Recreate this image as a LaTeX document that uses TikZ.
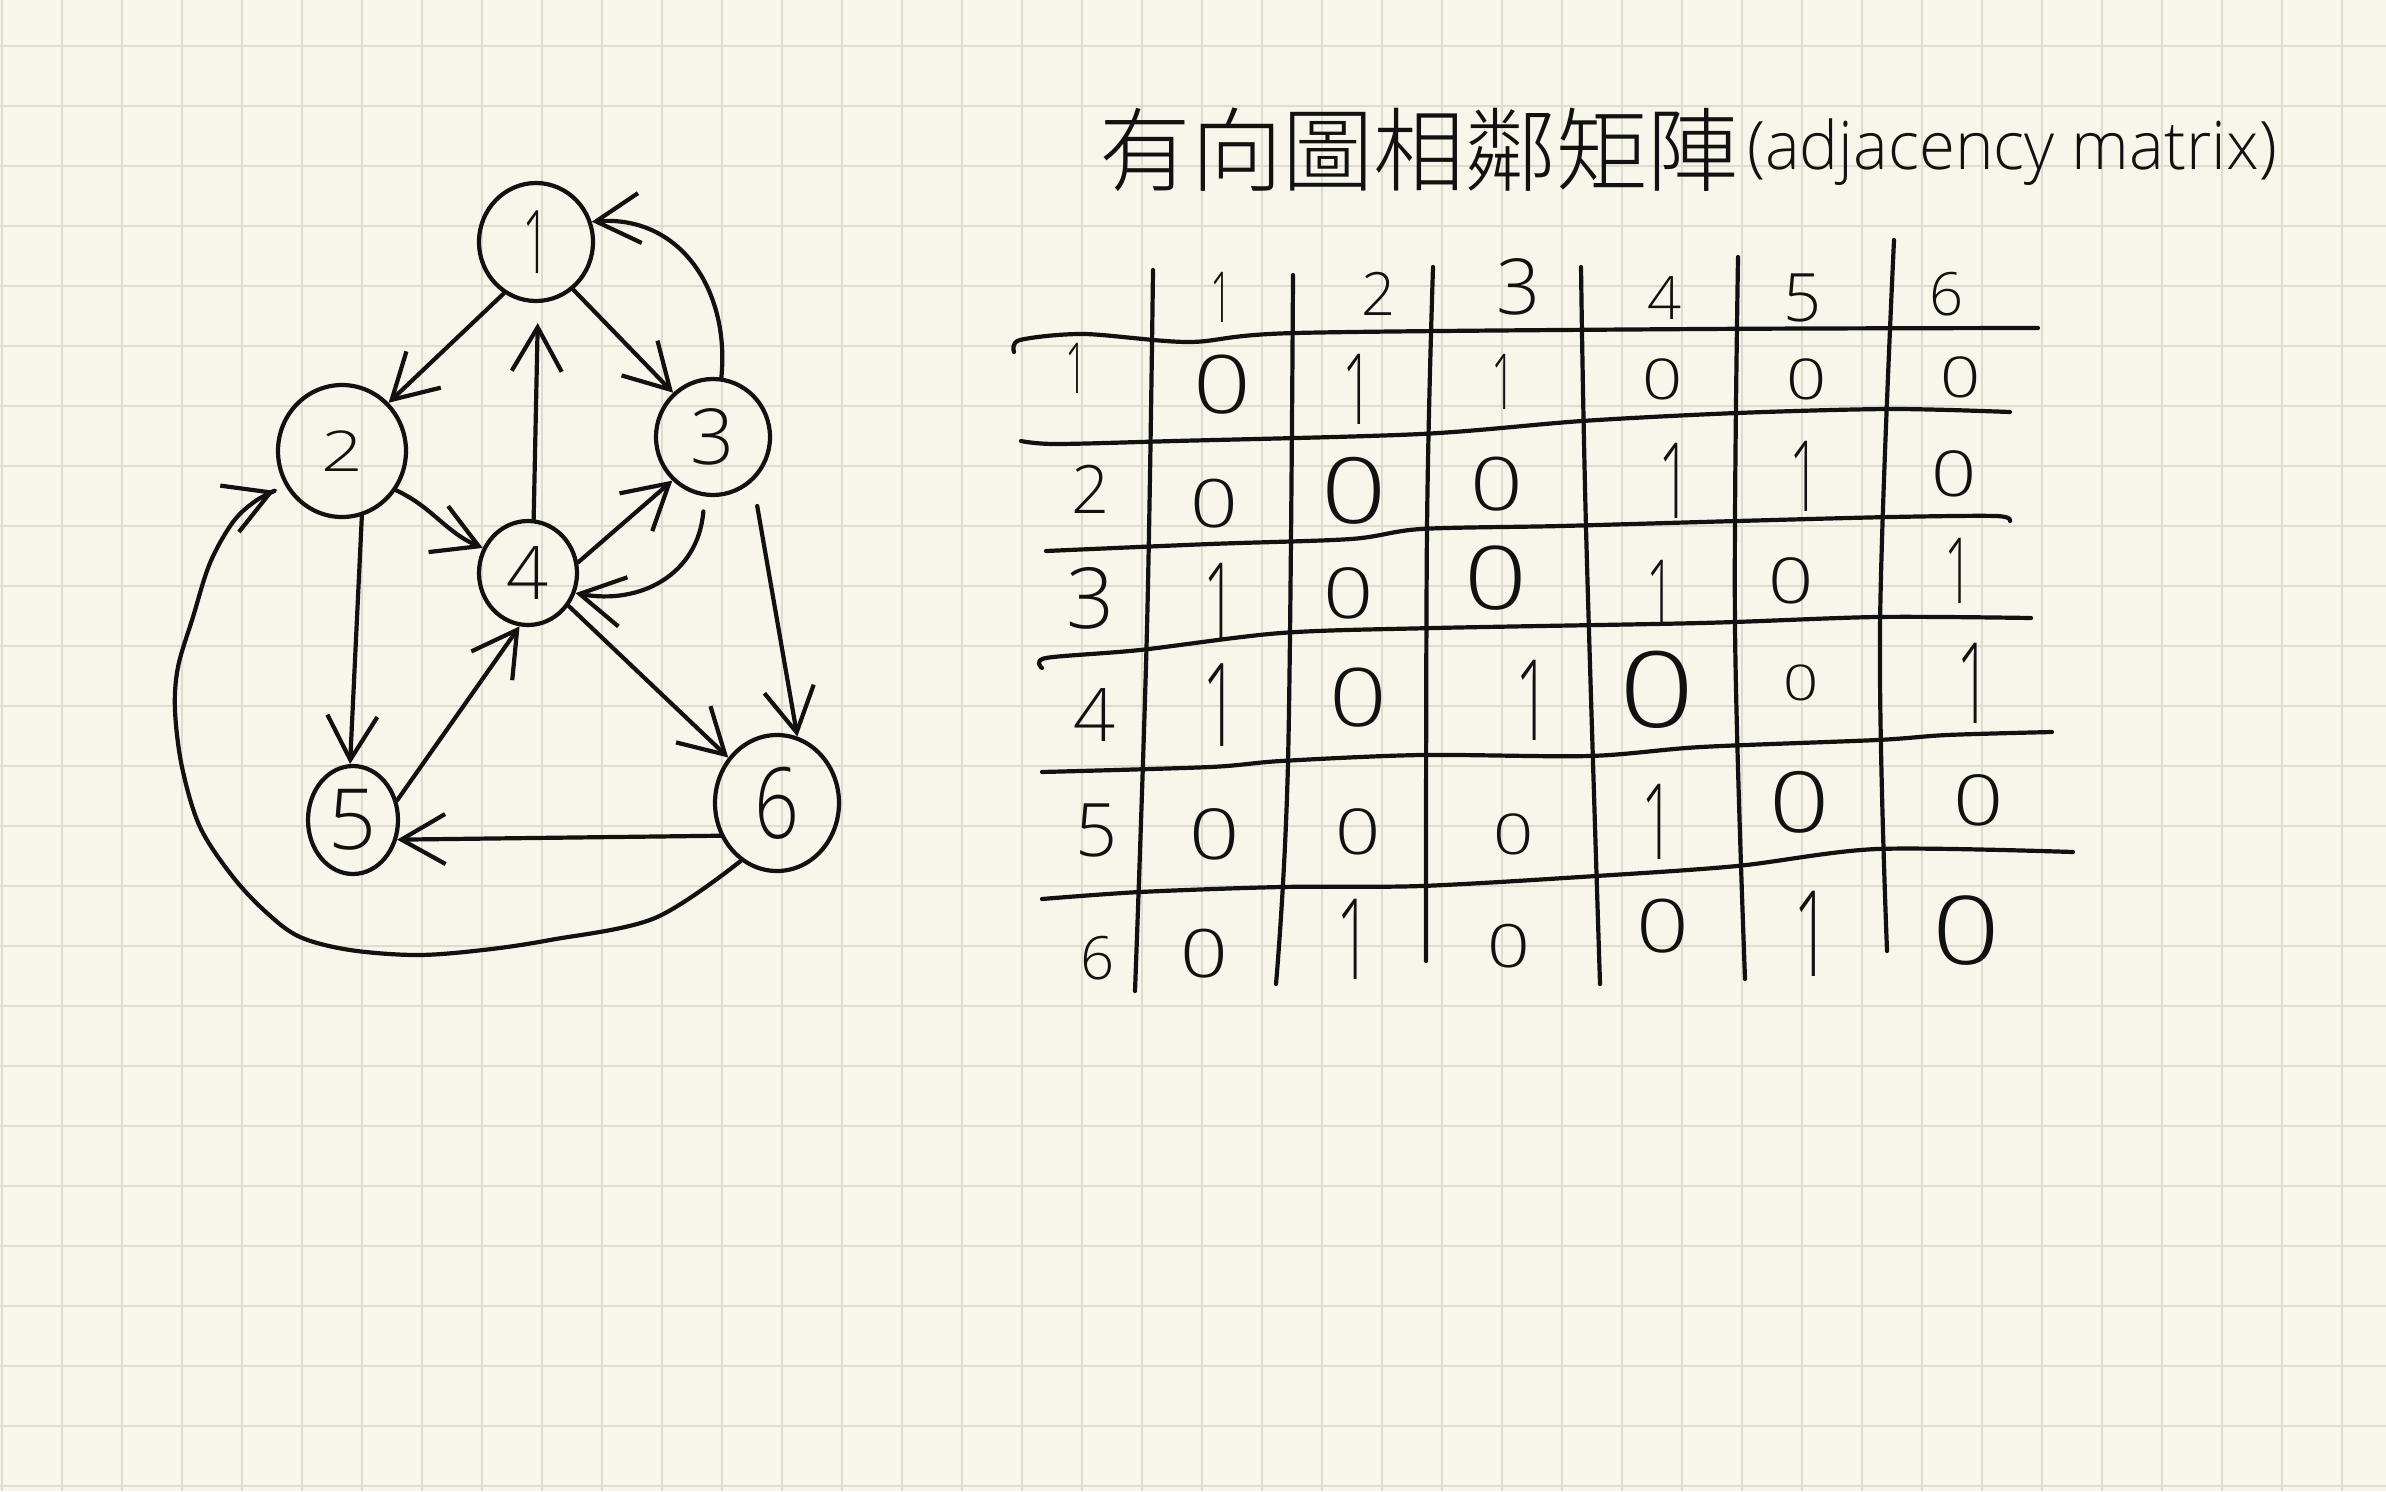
\documentclass[tikz,border=0pt]{standalone}
\usepackage{fontspec}
\usepackage{graphicx}
\IfFontExistsTF{Open Sans Light}{\setmainfont{Open Sans Light}}{\setmainfont{Open Sans}}
\IfFontExistsTF{Noto Sans CJK TC Light}{\newfontfamily\cjk{Noto Sans CJK TC Light}}{\newfontfamily\cjk{Noto Sans CJK TC}}
\usetikzlibrary{shapes.geometric,arrows.meta}
\definecolor{paper}{RGB}{248,246,234}
\definecolor{gridc}{RGB}{222,220,207}
\definecolor{ink}{RGB}{17,17,17}
\newcommand\dg[1]{\fontsize{#1}{#1}\selectfont}
\newcommand\one{\scalebox{0.55}[1]{1}}
\newcommand\zero{\scalebox{1.25}[1]{0}}
\tikzset{
  pen/.style={draw=ink, line width=0.42mm, line cap=round, line join=round},
  vtx/.style={pen, shape=ellipse, inner sep=0pt, text=ink},
  edge/.style={pen, -{Straight Barb[length=4.4mm,width=5mm]}},
  cell/.style={inner sep=0pt, text=ink},
  gridline/.style={draw=gridc, line width=0.2mm},
}
\begin{document}
\begin{tikzpicture}[x=0.1mm,y=-0.1mm]
\useasboundingbox (0,0) rectangle (2386,1491);
\fill[paper] (0,0) rectangle (2386,1491);
\foreach \i in {0,...,39} \draw[gridline] ({1.7+60*\i},0) -- ({1.7+60*\i},1491);
\foreach \j in {0,...,24} \draw[gridline] (0,{46+60*\j}) -- (2386,{46+60*\j});

% ---------- graph ----------
\node[vtx, minimum width=11.4mm, minimum height=11.8mm, font=\dg{25}] (n1) at (536,242) {\one};
\node[vtx, minimum width=12.8mm, minimum height=13.2mm, font=\dg{16}] (n2) at (342,451) {\scalebox{1.3}[1]{2}};
\node[vtx, minimum width=11.4mm, minimum height=11.6mm, font=\dg{22}] (n3) at (713,437) {3};
\node[vtx, minimum width=9.8mm, minimum height=10.4mm, font=\dg{21}] (n4) at (528,573) {4};
\node[vtx, minimum width=9.0mm, minimum height=10.8mm, font=\dg{24}] (n5) at (353,820) {5};
\node[vtx, minimum width=12.4mm, minimum height=13.6mm, font=\dg{28}] (n6) at (777,803) {\scalebox{0.8}[1]{6}};

\draw[edge] (n1.238) -- (n2.46);
\draw[edge] (n1.308) -- (n3.132);
\draw[edge] (n3.82) .. controls (730,290) and (680,215) .. (n1.20);
\draw[edge, shorten >=2mm] (n4.84) -- (n1.272);
\draw[edge] (n2.324) to[out=-25,in=157] (n4.151);
\draw[edge] (n4.12) -- (n3.227);
\draw[edge, shorten <=1.5mm] (n3.262) .. controls (698,575) and (640,605) .. (n4.337);
\draw[edge] (n2.287) -- (n5.93);
\draw[edge] (n5.24) -- (n4.261);
\draw[edge] (n4.321) -- (n6.137);
\draw[edge, shorten <=2.5mm] (n3.312) -- (n6.73);
\draw[edge] (n6.210) -- (n5.336);
\draw[edge, shorten >=1.2mm] plot[smooth, tension=0.55] coordinates {(n6.238) (655,918) (550,940) (483,950) (417,955) (350,950) (300,937) (267,913) (233,877) (200,827) (182,767) (175,710) (178,667) (193,617) (210,563) (233,522) (257,500) (n2.212)};

% ---------- title ----------
\node[anchor=base west, inner sep=0pt, text=ink] (title) at (1099,184)
  {{\cjk\dg{26}有向圖相鄰矩陣}\hspace{0.8mm}\raisebox{1.5mm}{\scalebox{0.98}[1]{\dg{19}(adjacency matrix)}}};

% ---------- matrix rules ----------
\draw[pen] plot[smooth, tension=0.6] coordinates {(1153,270) (1147,628) (1135,991)};
\draw[pen] plot[smooth, tension=0.6] coordinates {(1293,275) (1288,762) (1276,984)};
\draw[pen] plot[smooth, tension=0.6] coordinates {(1433,267) (1427,528) (1426,961)};
\draw[pen] plot[smooth, tension=0.6] coordinates {(1581,267) (1586,528) (1600,984)};
\draw[pen] plot[smooth, tension=0.6] coordinates {(1738,257) (1735,628) (1745,979)};
\draw[pen] plot[smooth, tension=0.6] coordinates {(1894,240) (1880,628) (1887,951)};

\draw[pen] plot[smooth, tension=0.5] coordinates {(1014,352) (1020,340) (1084,334) (1189,342) (1295,333) (1701,329) (2038,328)};
\draw[pen] plot[smooth, tension=0.5] coordinates {(1021,441) (1056,444) (1175,441) (1421,434) (1582,421) (1737,413) (1891,409) (2010,412)};
\draw[pen] plot[smooth, tension=0.5] coordinates {(1046,551) (1210,544) (1351,539) (1421,529) (1561,526) (1737,521) (1891,517) (1996,516) (2010,521)};
\draw[pen] plot[smooth, tension=0.5] coordinates {(1042,668) (1046,658) (1140,650) (1281,633) (1435,628) (1701,623) (1877,617) (2031,618)};
\draw[pen] plot[smooth, tension=0.5] coordinates {(1042,772) (1210,767) (1281,761) (1421,755) (1589,756) (1701,747) (1877,740) (1947,735) (2052,732)};
\draw[pen] plot[smooth, tension=0.5] coordinates {(1042,899) (1140,892) (1281,887) (1421,886) (1596,876) (1737,866) (1877,849) (2073,852)};

% ---------- headers ----------
\node[cell, font=\dg{20}] (c1) at (1222,297) {\one};
\node[cell, font=\dg{17}] (c2) at (1379,294) {2};
\node[cell, font=\dg{22}] (c3) at (1519,287) {3};
\node[cell, font=\dg{17}] (c4) at (1665,298) {4};
\node[cell, font=\dg{19}] (c5) at (1803,298) {5};
\node[cell, font=\dg{17}] (c6) at (1947,294) {6};

\node[cell, font=\dg{20}] (r1) at (1077,368) {\one};
\node[cell, font=\dg{19}] (r2) at (1091,489) {2};
\node[cell, font=\dg{24}] (r3) at (1091,598) {3};
\node[cell, font=\dg{21}] (r4) at (1095,715) {4};
\node[cell, font=\dg{21}] (r5) at (1097,830) {5};
\node[cell, font=\dg{17}] (r6) at (1098,958) {6};

% ---------- entries ----------
\node[cell, font=\dg{23}] (m11) at (1222,385) {\zero};
\node[cell, font=\dg{28}] (m12) at (1358,389) {\one};
\node[cell, font=\dg{22}] (m13) at (1504,382) {\one};
\node[cell, font=\dg{16}] (m14) at (1663,379) {\zero};
\node[cell, font=\dg{16}] (m15) at (1807,379) {\zero};
\node[cell, font=\dg{16}] (m16) at (1961,377) {\zero};

\node[cell, font=\dg{19}] (m21) at (1214,504) {\zero};
\node[cell, font=\dg{26}] (m22) at (1354,491) {\zero};
\node[cell, font=\dg{21}] (m23) at (1497,484) {\zero};
\node[cell, font=\dg{30}] (m24) at (1675,481) {\one};
\node[cell, font=\dg{28}] (m25) at (1805,476) {\one};
\node[cell, font=\dg{18}] (m26) at (1954,474) {\zero};

\node[cell, font=\dg{30}] (m31) at (1220,601) {\one};
\node[cell, font=\dg{20}] (m32) at (1349,593) {\zero};
\node[cell, font=\dg{25}] (m33) at (1496,578) {\zero};
\node[cell, font=\dg{26}] (m34) at (1661,593) {\one};
\node[cell, font=\dg{18}] (m35) at (1791,581) {\zero};
\node[cell, font=\dg{26}] (m36) at (1959,571) {\one};

\node[cell, font=\dg{33}] (m41) at (1221,705) {\one};
\node[cell, font=\dg{23}] (m42) at (1358,698) {\zero};
\node[cell, font=\dg{32}] (m43) at (1533,700) {\one};
\node[cell, font=\dg{30}] (m44) at (1657,690) {\zero};
\node[cell, font=\dg{14}] (m45) at (1801,683) {\zero};
\node[cell, font=\dg{32}] (m46) at (1974,683) {\one};

\node[cell, font=\dg{20}] (m51) at (1215,834) {\zero};
\node[cell, font=\dg{18}] (m52) at (1358,832) {\zero};
\node[cell, font=\dg{16}] (m53) at (1514,834) {\zero};
\node[cell, font=\dg{30}] (m54) at (1658,822) {\one};
\node[cell, font=\dg{24}] (m55) at (1800,802) {\zero};
\node[cell, font=\dg{20}] (m56) at (1979,800) {\zero};

\node[cell, font=\dg{19}] (m61) at (1204,954) {\zero};
\node[cell, font=\dg{32}] (m62) at (1354,939) {\one};
\node[cell, font=\dg{17}] (m63) at (1509,946) {\zero};
\node[cell, font=\dg{21}] (m64) at (1663,926) {\zero};
\node[cell, font=\dg{34}] (m65) at (1812,934) {\one};
\node[cell, font=\dg{27}] (m66) at (1966,931) {\zero};
\end{tikzpicture}
\end{document}
